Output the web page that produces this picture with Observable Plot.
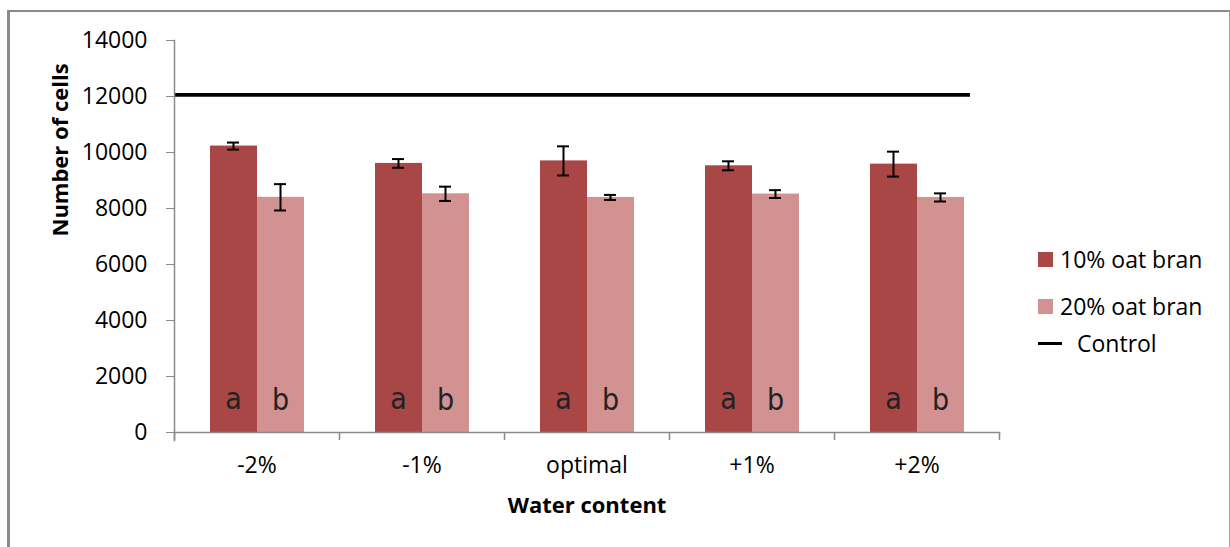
<!DOCTYPE html>
<html>
<head>
<meta charset="utf-8">
<script src="https://cdn.jsdelivr.net/npm/d3@7"></script>
<script src="https://cdn.jsdelivr.net/npm/@observablehq/plot@0.6"></script>
<style>
  html, body { margin: 0; padding: 0; background: #fff; }
  body { width: 1230px; height: 547px; position: relative; overflow: hidden; font-family: "Open Sans", "Lato", sans-serif; }
  #frame { position: absolute; left: 7px; top: 10px; width: 1224px; height: 560px; border-left: 3px solid #8a8a8a; border-top: 2px solid #8a8a8a; border-right: 2px solid #a0a0a0; box-sizing: border-box; }
  #chart { position: absolute; left: 0; top: 0; }
  #legend { position: absolute; left: 1038px; top: 243px; font-size: 23px; color: #000; }
  .item { position: absolute; white-space: nowrap; display: flex; align-items: center; }
  .sw { width: 15px; height: 15px; margin-right: 7px; }
  .ln { width: 24px; height: 3px; background: #000; margin-right: 15px; }
  .letter { transform-box: fill-box; transform-origin: center; }
</style>
</head>
<body>
<div id="frame"></div>
<div id="chart"></div>
<div id="legend"></div>
<script>
const categories = ["-2%", "-1%", "optimal", "+1%", "+2%"];
const mean10 = [10230, 9610, 9700, 9525, 9585];
const err10  = [125, 155, 520, 160, 445];
const mean20 = [8400, 8525, 8395, 8515, 8395];
const err20  = [470, 255, 90, 140, 145];
const letters10 = ["a", "a", "a", "a", "a"];
const letters20 = ["b", "b", "b", "b", "b"];
const controlValue = 12060;
const yTicks = [0, 2000, 4000, 6000, 8000, 10000, 12000, 14000];
const seriesNames = ["10% oat bran", "20% oat bran"];
const colors = ["#a84745", "#d29291"];

const d10 = categories.map((c, i) => ({cat: c, mean: mean10[i], lo: mean10[i] - err10[i], hi: mean10[i] + err10[i], letter: letters10[i]}));
const d20 = categories.map((c, i) => ({cat: c, mean: mean20[i], lo: mean20[i] - err20[i], hi: mean20[i] + err20[i], letter: letters20[i]}));

const font = "Open Sans, Lato, sans-serif";
const gray = "#8a8a8a";
const letterFont = "Liberation Sans Narrow, DejaVu Sans Condensed, sans-serif";

const chart = Plot.plot({
  width: 1010,
  height: 547,
  marginLeft: 174,
  marginRight: 11,
  marginTop: 40,
  marginBottom: 115,
  style: {fontFamily: font, fontSize: "23px", color: "#000", background: "transparent", overflow: "visible"},
  x: {domain: categories, padding: 0, label: null},
  y: {domain: [0, 14000], label: null},
  marks: [
    Plot.barY(d10, {x: "cat", y: "mean", fill: colors[0], insetLeft: 36, insetRight: 82}),
    Plot.barY(d20, {x: "cat", y: "mean", fill: colors[1], insetLeft: 83, insetRight: 35}),
    Plot.ruleX(d10, {x: "cat", y1: "lo", y2: "hi", dx: -23.5, stroke: "#000", strokeWidth: 2}),
    Plot.ruleX(d20, {x: "cat", y1: "lo", y2: "hi", dx: 23.5, stroke: "#000", strokeWidth: 2}),
    Plot.tickY(d10, {x: "cat", y: "lo", insetLeft: 53, insetRight: 100, stroke: "#000", strokeWidth: 2}),
    Plot.tickY(d10, {x: "cat", y: "hi", insetLeft: 53, insetRight: 100, stroke: "#000", strokeWidth: 2}),
    Plot.tickY(d20, {x: "cat", y: "lo", insetLeft: 100, insetRight: 53, stroke: "#000", strokeWidth: 2}),
    Plot.tickY(d20, {x: "cat", y: "hi", insetLeft: 100, insetRight: 53, stroke: "#000", strokeWidth: 2}),
    Plot.text(d10, {x: "cat", text: "letter", frameAnchor: "bottom", dy: -24, dx: -23.5, fontSize: 30, fontFamily: letterFont, fill: "#222"}),
    Plot.text(d20, {x: "cat", text: "letter", frameAnchor: "bottom", dy: -23, dx: 23.5, fontSize: 30, fontFamily: letterFont, fill: "#222"}),
    Plot.ruleY([controlValue], {stroke: "#000", strokeWidth: 3.7, insetRight: 29}),
    Plot.frame({anchor: "left", stroke: gray, strokeWidth: 1.5, insetBottom: -8}),
    Plot.frame({anchor: "bottom", stroke: gray, strokeWidth: 1.5}),
    Plot.ruleX(categories, {x: d => d, dx: -82.5, stroke: gray, strokeWidth: 1.5, insetTop: 392, insetBottom: -8}),
    Plot.ruleX(categories.slice(-1), {x: d => d, dx: 82.5, stroke: gray, strokeWidth: 1.5, insetTop: 392, insetBottom: -8}),
    Plot.axisY({ticks: yTicks, tickSize: 8, tickPadding: 19, stroke: gray, fill: "#000", fontSize: 23, label: null, tickFormat: d => String(d)}),
    Plot.axisX({tickSize: 0, tickPadding: 24, fill: "#000", fontSize: 23, label: null}),
    Plot.text(["Water content"], {frameAnchor: "bottom", dy: 80, fontWeight: "bold", fontSize: 22, fill: "#000"}),
    Plot.text(["Number of cells"], {frameAnchor: "left", dx: -114, rotate: -90, fontWeight: "bold", fontSize: 22, fill: "#000"})
  ]
});
document.getElementById("chart").appendChild(chart);

const legend = document.getElementById("legend");
const items = [
  {html: `<div class="sw" style="background:${colors[0]}"></div><span>${seriesNames[0]}</span>`, top: 0},
  {html: `<div class="sw" style="background:${colors[1]}"></div><span>${seriesNames[1]}</span>`, top: 47},
  {html: `<div class="ln"></div><span>Control</span>`, top: 84}
];
for (const it of items) {
  const d = document.createElement("div");
  d.className = "item";
  d.style.top = it.top + "px";
  d.innerHTML = it.html;
  legend.appendChild(d);
}
</script>
</body>
</html>
